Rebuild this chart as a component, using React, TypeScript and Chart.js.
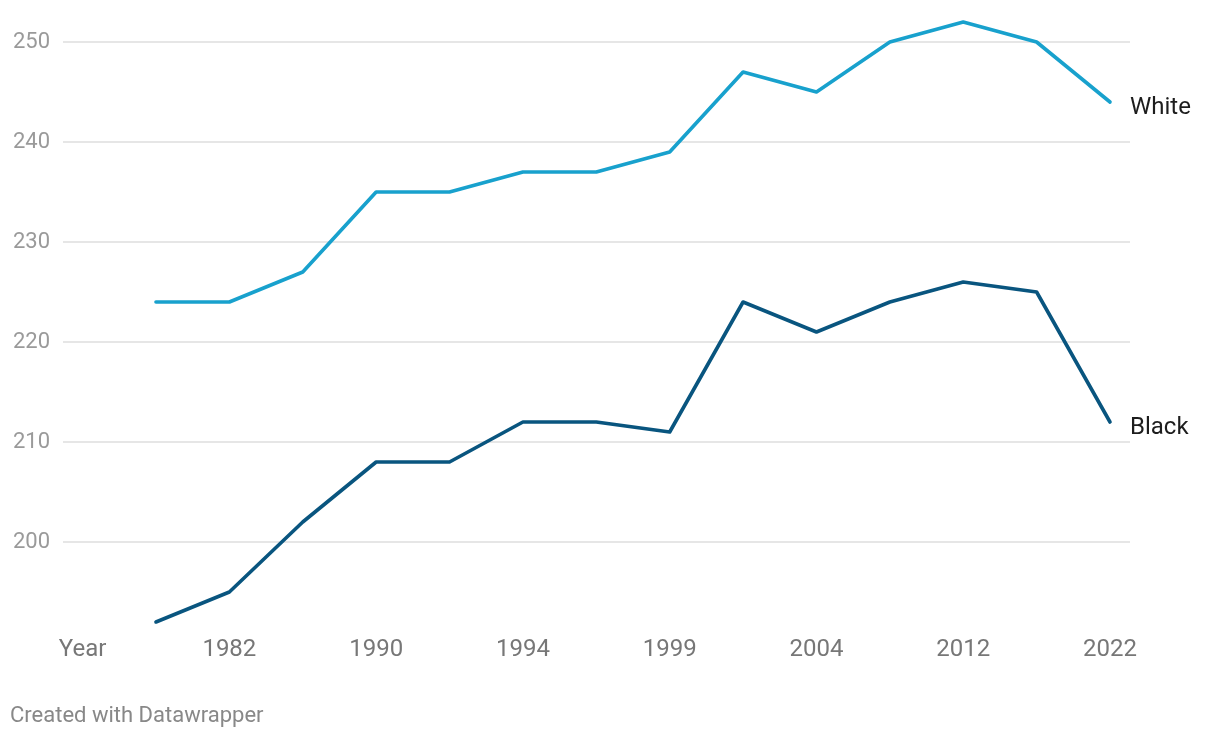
import React, { useEffect, useRef } from "react";
import { Chart, registerables } from "chart.js";

Chart.register(...registerables);

const years = ["1978", "1982", "1986", "1990", "1992", "1994", "1996", "1999", "2004", "2004", "2008", "2012", "2020", "2022"];
const whiteScores = [224, 224, 227, 235, 235, 237, 237, 239, 247, 245, 250, 252, 250, 244];
const blackScores = [192, 195, 202, 208, 208, 212, 212, 211, 224, 221, 224, 226, 225, 212];
const xTickLabels = ["Year", "1982", "1990", "1994", "1999", "2004", "2012", "2022"];
const yTickValues = [200, 210, 220, 230, 240, 250];
const seriesNames = ["White", "Black"];
const seriesColors = ["#18a1cd", "#09557f"];
const footerText = "Created with Datawrapper";

const FONT = "Roboto, 'Noto Sans', sans-serif";

function tickIndex(label: string): number {
  return label === "Year" ? -1 : years.lastIndexOf(label);
}

const labelPlugin = {
  id: "endLabels",
  afterDatasetsDraw(chart: any) {
    const ctx = chart.ctx;
    ctx.save();
    ctx.font = `24px ${FONT}`;
    ctx.fillStyle = "#1d1d1d";
    ctx.textAlign = "left";
    ctx.textBaseline = "alphabetic";
    chart.data.datasets.forEach((ds: any, i: number) => {
      const meta = chart.getDatasetMeta(i);
      const pt = meta.data[meta.data.length - 1];
      ctx.fillText(ds.label, pt.x + 20, pt.y + 12);
    });
    ctx.font = `22px ${FONT}`;
    ctx.fillStyle = "#888888";
    ctx.fillText(footerText, 10, 722);
    ctx.restore();
  },
};

export default function App() {
  const ref = useRef<HTMLCanvasElement | null>(null);
  useEffect(() => {
    if (!ref.current) return;
    const series = [whiteScores, blackScores];
    const chart = new Chart(ref.current, {
      type: "line",
      data: {
        datasets: series.map((vals, i) => ({
          label: seriesNames[i],
          data: vals.map((v, j) => ({ x: j, y: v })),
          borderColor: seriesColors[i],
          backgroundColor: seriesColors[i],
          borderWidth: 3.6,
          borderCapStyle: "round" as const,
          borderJoinStyle: "round" as const,
          pointRadius: 0,
          tension: 0,
          clip: false as any,
        })),
      },
      options: {
        animation: false,
        responsive: true,
        maintainAspectRatio: false,
        layout: { padding: { top: 19, left: 0, right: 90, bottom: 0 } },
        plugins: { legend: { display: false }, tooltip: { enabled: false } },
        scales: {
          x: {
            type: "linear",
            min: -1.267,
            max: 13.2725,
            afterBuildTicks: (scale: any) => {
              scale.ticks = xTickLabels.map((l) => ({ value: tickIndex(l) }));
            },
            afterFit: (scale: any) => {
              scale.height = 113;
              scale.paddingLeft = 0;
              scale.paddingRight = 0;
            },
            grid: { display: false, drawTicks: false },
            border: { display: false },
            ticks: {
              autoSkip: false,
              maxRotation: 0,
              padding: 11,
              color: "#777777",
              font: { family: FONT, size: 24 },
              callback: (v: any) => {
                const idx = xTickLabels.findIndex((l) => tickIndex(l) === v);
                return idx >= 0 ? xTickLabels[idx] : "";
              },
            },
          },
          y: {
            min: 191.7,
            max: 252.3,
            afterBuildTicks: (scale: any) => {
              scale.ticks = yTickValues.map((v) => ({ value: v }));
            },
            afterFit: (scale: any) => {
              scale.width = 63;
              scale.paddingTop = 0;
              scale.paddingBottom = 0;
            },
            grid: { color: "#e6e6e6", lineWidth: 2, drawTicks: false },
            border: { display: false },
            ticks: {
              padding: 13,
              color: "#9a9a9a",
              font: { family: FONT, size: 22 },
            },
          },
        },
      },
      plugins: [labelPlugin],
    });
    return () => chart.destroy();
  }, []);
  return (
    <div style={{ position: "fixed", left: 0, top: 0, width: 1220, height: 738, background: "#fff" }}>
      <canvas ref={ref} style={{ display: "block" }} />
    </div>
  );
}
